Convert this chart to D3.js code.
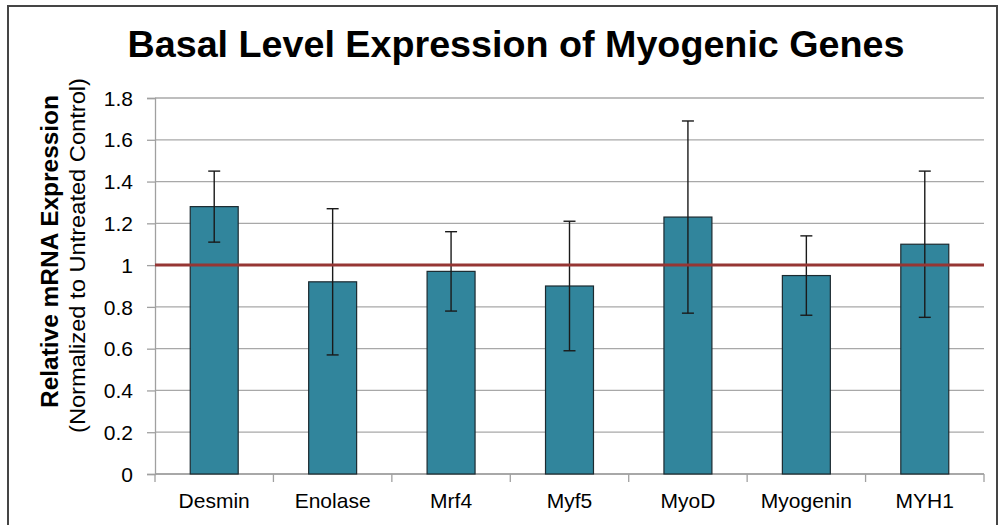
<!DOCTYPE html>
<html>
<head>
<meta charset="utf-8">
<script src="https://cdn.jsdelivr.net/npm/d3@7"></script>
<style>
  html, body { margin: 0; padding: 0; background: #fff; }
  svg { display: block; font-family: "Liberation Sans", Arial, sans-serif; }
</style>
</head>
<body>
<svg id="chart" width="1000" height="525"></svg>
<script>
// Relative mRNA expression of myogenic genes (normalized to untreated control)
const genes = ["Desmin", "Enolase", "Mrf4", "Myf5", "MyoD", "Myogenin", "MYH1"];
const expression = [1.28, 0.92, 0.97, 0.90, 1.23, 0.95, 1.10];
const errorHalf = [0.17, 0.35, 0.19, 0.31, 0.46, 0.19, 0.35];
const yTickValues = [0, 0.2, 0.4, 0.6, 0.8, 1.0, 1.2, 1.4, 1.6, 1.8];
const controlLevel = 1;

const svg = d3.select("#chart");

const plot = { left: 155, right: 984, top: 98, bottom: 474 };

const x = d3.scaleBand()
  .domain(genes)
  .range([plot.left, plot.right])
  .paddingInner(0.595)
  .paddingOuter(0.2975);

const y = d3.scaleLinear()
  .domain([0, 1.8])
  .range([plot.bottom, plot.top]);

// outer frame
svg.append("rect")
  .attr("x", 8).attr("y", 6)
  .attr("width", 989).attr("height", 540)
  .attr("fill", "none")
  .attr("stroke", "#454545")
  .attr("stroke-width", 2);

// title
svg.append("text")
  .attr("x", 516).attr("y", 57)
  .attr("text-anchor", "middle")
  .attr("font-size", 36)
  .attr("font-weight", "bold")
  .attr("fill", "#000")
  .attr("textLength", 777)
  .attr("lengthAdjust", "spacingAndGlyphs")
  .text("Basal Level Expression of Myogenic Genes");

// horizontal gridlines
svg.append("g")
  .selectAll("line")
  .data(yTickValues)
  .join("line")
  .attr("x1", plot.left).attr("x2", plot.right)
  .attr("y1", d => y(d)).attr("y2", d => y(d))
  .attr("stroke", "#a8a8a8")
  .attr("stroke-width", 1.3);

// y axis
const yAxis = svg.append("g")
  .attr("transform", `translate(${plot.left},0)`)
  .call(d3.axisLeft(y)
    .tickValues(yTickValues)
    .tickSize(8)
    .tickPadding(14)
    .tickFormat(d => String(+d.toFixed(1))));
yAxis.select(".domain").attr("stroke", "#a0a0a0").attr("stroke-width", 1.3);
yAxis.selectAll(".tick line").attr("stroke", "#a0a0a0").attr("stroke-width", 1.3);
yAxis.selectAll(".tick text")
  .attr("font-size", 21)
  .attr("font-family", "Liberation Sans, Arial, sans-serif")
  .attr("fill", "#000")
  .attr("dy", "0.34em");

// x axis baseline and category boundary ticks
svg.append("line")
  .attr("x1", plot.left).attr("x2", plot.right)
  .attr("y1", y(0)).attr("y2", y(0))
  .attr("stroke", "#a0a0a0").attr("stroke-width", 1.3);

svg.append("g")
  .selectAll("line")
  .data(d3.range(genes.length + 1))
  .join("line")
  .attr("x1", i => plot.left + i * x.step())
  .attr("x2", i => plot.left + i * x.step())
  .attr("y1", y(0)).attr("y2", y(0) + 8)
  .attr("stroke", "#a0a0a0").attr("stroke-width", 1.3);

// category labels
svg.append("g")
  .selectAll("text")
  .data(genes)
  .join("text")
  .attr("x", d => x(d) + x.bandwidth() / 2)
  .attr("y", 508)
  .attr("text-anchor", "middle")
  .attr("font-size", 21)
  .attr("fill", "#000")
  .text(d => d);

// bars
svg.append("g")
  .selectAll("rect")
  .data(genes)
  .join("rect")
  .attr("x", d => x(d))
  .attr("y", (d, i) => y(expression[i]))
  .attr("width", x.bandwidth())
  .attr("height", (d, i) => y(0) - y(expression[i]))
  .attr("fill", "#31859C")
  .attr("stroke", "#1c2a30")
  .attr("stroke-width", 1.2);

// error bars
const err = svg.append("g")
  .attr("stroke", "#1a1a1a")
  .attr("stroke-width", 1.4);
genes.forEach((g, i) => {
  const cx = x(g) + x.bandwidth() / 2;
  const hi = y(expression[i] + errorHalf[i]);
  const lo = y(expression[i] - errorHalf[i]);
  err.append("line").attr("x1", cx).attr("x2", cx).attr("y1", hi).attr("y2", lo);
  err.append("line").attr("x1", cx - 6).attr("x2", cx + 6).attr("y1", hi).attr("y2", hi);
  err.append("line").attr("x1", cx - 6).attr("x2", cx + 6).attr("y1", lo).attr("y2", lo);
});

// untreated control reference line
svg.append("line")
  .attr("x1", plot.left).attr("x2", plot.right)
  .attr("y1", y(controlLevel)).attr("y2", y(controlLevel))
  .attr("stroke", "#963634")
  .attr("stroke-width", 3);

// y axis title (two lines)
svg.append("text")
  .attr("transform", `translate(58,251.5) rotate(-90)`)
  .attr("text-anchor", "middle")
  .attr("font-size", 23)
  .attr("font-weight", "bold")
  .attr("fill", "#000")
  .attr("textLength", 313)
  .attr("lengthAdjust", "spacingAndGlyphs")
  .text("Relative mRNA Expression");

svg.append("text")
  .attr("transform", `translate(85,255.5) rotate(-90)`)
  .attr("text-anchor", "middle")
  .attr("font-size", 22)
  .attr("fill", "#000")
  .attr("textLength", 355)
  .attr("lengthAdjust", "spacingAndGlyphs")
  .text("(Normalized to Untreated Control)");
</script>
</body>
</html>
